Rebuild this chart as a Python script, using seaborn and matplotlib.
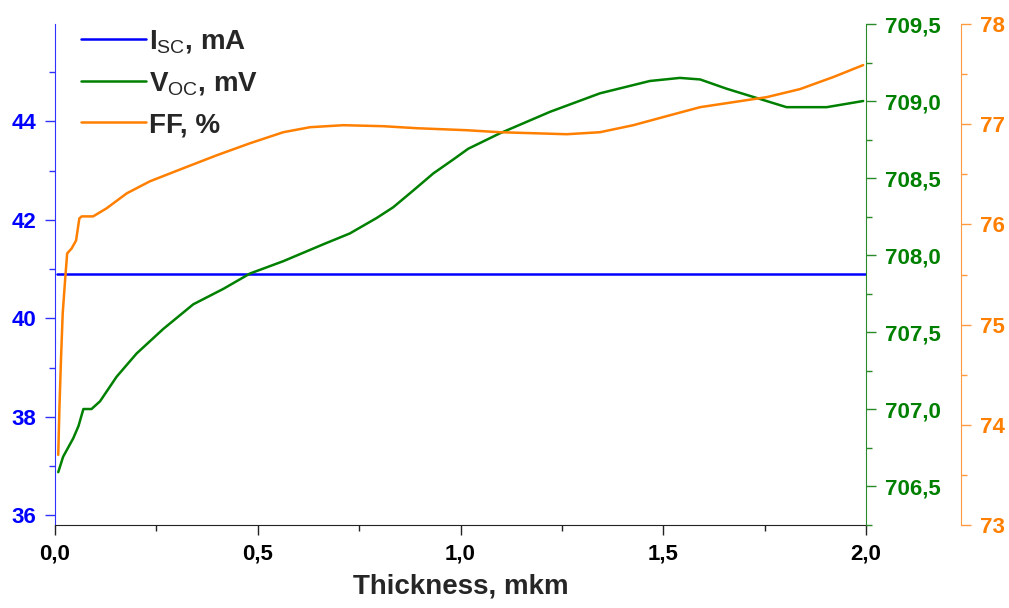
import numpy as np
import matplotlib
matplotlib.use('Agg')
import matplotlib.pyplot as plt
import matplotlib.ticker as mticker
import seaborn as sns

# data
isc_thickness = [0.005, 2.0]
isc = [40.91, 40.91]

voc_thickness = [0.008, 0.020, 0.045, 0.058, 0.070, 0.090, 0.111, 0.152, 0.201, 0.267,
                 0.341, 0.415, 0.481, 0.563, 0.662, 0.727, 0.793, 0.834, 0.884, 0.933,
                 0.982, 1.019, 1.097, 1.221, 1.344, 1.467, 1.541, 1.591, 1.656, 1.730,
                 1.804, 1.903, 1.993]
voc = [706.59, 706.69, 706.81, 706.89, 707.00, 707.00, 707.05, 707.21, 707.36, 707.52,
       707.68, 707.78, 707.88, 707.96, 708.07, 708.14, 708.24, 708.31, 708.42, 708.53,
       708.62, 708.69, 708.79, 708.93, 709.05, 709.13, 709.15, 709.14, 709.08, 709.02,
       708.96, 708.96, 709.00]

ff_thickness = [0.008, 0.011, 0.015, 0.019, 0.025, 0.030, 0.041, 0.052, 0.060, 0.066,
                0.094, 0.127, 0.177, 0.234, 0.316, 0.399, 0.481, 0.563, 0.629, 0.711,
                0.810, 0.892, 1.015, 1.097, 1.262, 1.344, 1.426, 1.508, 1.591, 1.673,
                1.755, 1.837, 1.919, 1.993]
ff = [73.70, 74.18, 74.68, 75.11, 75.45, 75.71, 75.76, 75.84, 76.06, 76.08,
      76.08, 76.16, 76.31, 76.43, 76.56, 76.69, 76.81, 76.92, 76.97, 76.99,
      76.98, 76.96, 76.94, 76.92, 76.90, 76.92, 76.99, 77.08, 77.17, 77.22,
      77.27, 77.35, 77.47, 77.59]

labels = [r'I$_{\mathrm{SC}}$, mA', r'V$_{\mathrm{OC}}$, mV', 'FF, %']

blue = '#0000ff'
green = '#008000'
orange = '#ff7f00'

sns.set_style('ticks')
plt.rcParams['font.family'] = ['Liberation Sans', 'DejaVu Sans']
plt.rcParams['mathtext.fontset'] = 'custom'
plt.rcParams['mathtext.rm'] = 'Liberation Sans'
plt.rcParams['mathtext.bf'] = 'Liberation Sans:bold'

fig = plt.figure(figsize=(10.09, 6.08), dpi=100)
ax1 = fig.add_axes([55/1009, 83/608, 811/1009, 501/608])
ax2 = ax1.twinx()
ax3 = ax1.twinx()

sns.lineplot(x=isc_thickness, y=isc, ax=ax1, color=blue, linewidth=1.8,
             estimator=None, sort=False, legend=False)
sns.lineplot(x=voc_thickness, y=voc, ax=ax2, color=green, linewidth=1.8,
             estimator=None, sort=False, legend=False)
sns.lineplot(x=ff_thickness, y=ff, ax=ax3, color=orange, linewidth=1.8,
             estimator=None, sort=False, legend=False)

ax1.set_xlim(0, 2.0)
ax1.set_ylim(35.8, 45.98)
ax2.set_ylim(706.247, 709.5)
ax3.set_ylim(73, 78)

comma1 = mticker.FuncFormatter(lambda v, p: f'{v:.1f}'.replace('.', ','))
comma0 = mticker.FuncFormatter(lambda v, p: f'{v:.0f}')

ax1.xaxis.set_major_locator(mticker.MultipleLocator(0.5))
ax1.xaxis.set_minor_locator(mticker.MultipleLocator(0.25))
ax1.xaxis.set_major_formatter(comma1)
ax1.yaxis.set_major_locator(mticker.MultipleLocator(2))
ax1.yaxis.set_minor_locator(mticker.MultipleLocator(1))
ax1.yaxis.set_major_formatter(comma0)
ax2.yaxis.set_major_locator(mticker.MultipleLocator(0.5))
ax2.yaxis.set_minor_locator(mticker.MultipleLocator(0.25))
ax2.yaxis.set_major_formatter(comma1)
ax3.yaxis.set_major_locator(mticker.MultipleLocator(1))
ax3.yaxis.set_minor_locator(mticker.MultipleLocator(0.5))
ax3.yaxis.set_major_formatter(comma0)

for a in (ax1, ax2, ax3):
    a.spines['top'].set_visible(False)
    a.set_ylabel('')
ax1.spines['right'].set_visible(False)
ax2.spines['left'].set_visible(False)
ax3.spines['left'].set_visible(False)
ax2.spines['bottom'].set_visible(False)
ax3.spines['bottom'].set_visible(False)
ax3.spines['right'].set_position(('axes', (961 - 55) / 811))

ax1.spines['left'].set_color('#3030ff')
ax1.spines['bottom'].set_color('#222222')
ax2.spines['right'].set_color('#2a8a2a')
ax3.spines['right'].set_color('#ff9a40')

ax1.tick_params(axis='x', which='both', direction='out', colors='#222222', labelcolor='black',
                labelsize=16, pad=6, width=1.0)
ax1.tick_params(axis='x', which='major', length=7.5)
ax1.tick_params(axis='x', which='minor', length=4)
for a, sc, lc in ((ax1, '#3030ff', blue), (ax2, '#2a8a2a', green), (ax3, '#ff9a40', orange)):
    a.tick_params(axis='y', which='both', direction='out', colors=sc, labelcolor=lc,
                  labelsize=16, pad=6, width=1.0)
    a.tick_params(axis='y', which='major', length=7.5)
    a.tick_params(axis='y', which='minor', length=4.5)

for a in (ax1, ax2, ax3):
    for lbl in a.get_xticklabels() + a.get_yticklabels():
        lbl.set_fontweight('bold')

ax1.set_xlabel('Thickness, mkm', fontsize=20, fontweight='bold', labelpad=6)

handles = ax1.get_lines()[:1] + ax2.get_lines()[:1] + ax3.get_lines()[:1]
leg = ax3.legend(handles, labels, loc='upper left', bbox_to_anchor=(0.018, 1.014),
                 frameon=False, handlelength=2.35, handletextpad=0.12, labelspacing=0.52,
                 borderaxespad=0, prop={'size': 20, 'weight': 'bold'})

fig.savefig('out.png', dpi=100)
